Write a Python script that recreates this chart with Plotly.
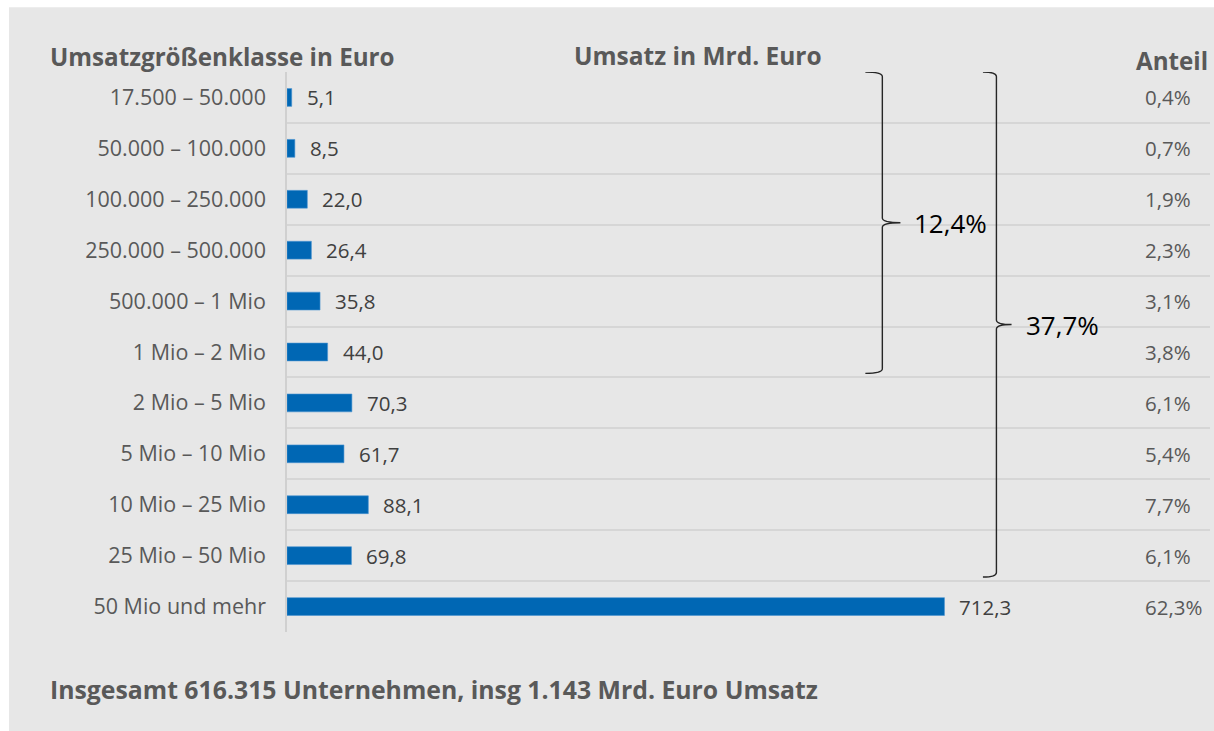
import plotly.graph_objects as go

# Umsatzgrößenklassen (von oben nach unten)
klassen = ['17.500 – 50.000', '50.000 – 100.000', '100.000 – 250.000', '250.000 – 500.000',
           '500.000 – 1 Mio', '1 Mio – 2 Mio', '2 Mio – 5 Mio', '5 Mio – 10 Mio',
           '10 Mio – 25 Mio', '25 Mio – 50 Mio', '50 Mio und mehr']
umsatz = [5.1, 8.5, 22.0, 26.4, 35.8, 44.0, 70.3, 61.7, 88.1, 69.8, 712.3]
anteil = ['0,4%', '0,7%', '1,9%', '2,3%', '3,1%', '3,8%', '6,1%', '5,4%', '7,7%', '6,1%', '62,3%']

# Klammern: (erste Klasse, letzte Klasse, Beschriftung)
gruppen = [(0, 5, '12,4%'), (0, 9, '37,7%')]

FONT = 'Open Sans'
GRAU = '#595959'
BLAU = '#0067b4'
HG = '#e7e7e7'

pos = list(range(len(klassen)))

fig = go.Figure()
fig.add_trace(go.Bar(x=umsatz, y=pos, orientation='h', width=0.35,
                     marker=dict(color=BLAU, line=dict(color='#4a94d2', width=0.6)),
                     hoverinfo='skip'))

annos = []
for i, (v, a) in enumerate(zip(umsatz, anteil)):
    annos.append(dict(x=v, y=i, xref='x', yref='y', text=f'{v:.1f}'.replace('.', ','),
                      xanchor='left', xshift=13, showarrow=False,
                      font=dict(family=FONT, size=20.5, color='#404040')))
    annos.append(dict(x=0.9275, y=i, xref='paper', yref='y', text=a,
                      xanchor='left', showarrow=False,
                      font=dict(family=FONT, size=20.5, color=GRAU)))

# Klammern als Pfade
brace_x = [(626.6, 645.0, 664.6), (754.0, 768.6, 785.0)]
shapes = [
    # weißer Rand links und oben
    dict(type='rect', xref='paper', yref='paper', x0=-0.32, x1=-0.3012, y0=-0.2, y1=1.2,
         fillcolor='white', line=dict(width=0), layer='below'),
    dict(type='rect', xref='paper', yref='paper', x0=-0.32, x1=1.02, y0=1.1155, y1=1.2,
         fillcolor='white', line=dict(width=0), layer='below'),
]
for (s, e, lab), (hx, vx, tx) in zip(gruppen, brace_x):
    top = s - 0.5
    bot = e + 0.42
    mid = (top + bot) / 2
    d = 0.09
    path = (f'M {hx},{top} Q {vx},{top} {vx},{top + d} L {vx},{mid - d} '
            f'Q {vx},{mid} {tx},{mid} Q {vx},{mid} {vx},{mid + d} '
            f'L {vx},{bot - d} Q {vx},{bot} {hx},{bot}')
    shapes.append(dict(type='path', xref='x', yref='y', path=path,
                       line=dict(color='#262626', width=1.4)))
    annos.append(dict(x=tx, y=mid, xref='x', yref='y', text=lab, xanchor='left',
                      xshift=12, showarrow=False,
                      font=dict(family=FONT, size=26, color='#000000')))

# Kopfzeilen und Fußzeile
annos += [
    dict(x=-0.2585, y=1.027, xref='paper', yref='paper', text='<b>Umsatzgrößenklasse in Euro</b>',
         xanchor='left', yanchor='middle', showarrow=False,
         font=dict(family=FONT, size=24.2, color=GRAU)),
    dict(x=0.445, y=1.029, xref='paper', yref='paper', text='<b>Umsatz in Mrd. Euro</b>',
         xanchor='center', yanchor='middle', showarrow=False,
         font=dict(family=FONT, size=24.5, color=GRAU)),
    dict(x=1.0, y=1.021, xref='paper', yref='paper', text='<b>Anteil</b>',
         xanchor='right', yanchor='middle', showarrow=False,
         font=dict(family=FONT, size=24.2, color=GRAU)),
    dict(x=-0.2585, y=-0.102, xref='paper', yref='paper',
         text='<b>Insgesamt 616.315 Unternehmen, insg 1.143 Mrd. Euro Umsatz</b>',
         xanchor='left', yanchor='middle', showarrow=False,
         font=dict(family=FONT, size=24.8, color=GRAU)),
]

fig.update_layout(width=1214, height=731, margin=dict(l=287, r=4, t=72, b=99),
                  paper_bgcolor=HG, plot_bgcolor=HG, showlegend=False,
                  annotations=annos, shapes=shapes)
fig.update_xaxes(range=[0, 1000], showgrid=False, zeroline=False, showticklabels=False)
fig.update_yaxes(range=[len(klassen) - 0.5, -0.5], tickvals=pos, ticktext=klassen,
                 showgrid=False, zeroline=False, ticklabelstandoff=15,
                 tickfont=dict(family=FONT, size=21.5, color=GRAU),
                 showline=True, linecolor='#d0d0d0', linewidth=1.5,
                 minor=dict(tickvals=[i - 0.5 for i in range(len(klassen) + 1)],
                            showgrid=True, gridcolor='#d6d6d6', gridwidth=1.5, ticks=''))

fig.write_html('out.html', config={'displayModeBar': False},
               post_script="document.body.style.margin='0';"
                           "document.body.style.background='#e7e7e7';")
